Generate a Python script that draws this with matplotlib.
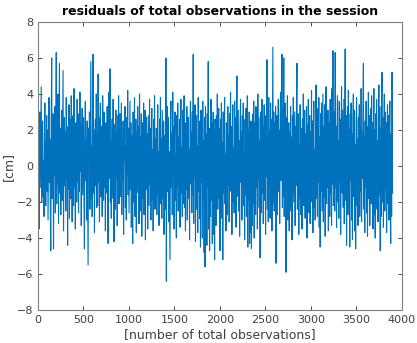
import numpy as np
import matplotlib.pyplot as plt

# residuals in mm, one value every 5th observation, six blocks of 650 observations
seg1 = [-8, 22, -35, 14, 30, -12, 18, 44, -20, 9,
        25, -17, 3, -28, 16, 35, -6, -22, 12, 28,
        -14, 20, -30, 7, 38, -9, 15, -24, -47, 26,
        60, -18, 11, 29, -46, 17, -5, 33, -26, 8,
        63, -21, 24, -10, 40, -32, 13, 57, -15, 21,
        -27, 9, 31, -19, 16, 53, -36, 5, 27, -11,
        19, -25, 38, -7, 14, -44, 22, -13, 34, -29,
        10, 26, -18, 39, -4, -31, 17, 28, -22, 43,
        -12, 15, -35, 24, 6, -20, 37, -9, 29, -26,
        18, -14, 41, -3, 23, -33, 12, 32, -16, 8,
        27, -21, -46, 19, 36, -8, 14, -30, 25, -12,
        -55, 21, 4, 30, -24, 16, 58, -18, 11, -28,
        34, 62, -15, 20, -37, 9, 26, -11, 40, -23]
seg2 = [18, -22, 51, -9, 27, -31, 13, 35, -17, 6,
        22, -28, 39, 2, -19, 30, -12, 17, -36, 24,
        9, -15, 33, -25, -43, 20, 41, -7, 54, -20,
        14, -29, 26, 4, -18, 37, -11, -42, 23, 10,
        -24, 31, -6, 18, -33, 28, -14, 39, -21, 12,
        29, -17, 7, 35, -27, 15, -8, 25, -38, 19,
        3, 33, -23, 11, -30, 27, -5, 42, -16, 21,
        -26, 8, 36, -13, 24, -34, 17, -9, -43, 30,
        -20, 13, 38, -28, 5, 26, -37, 19, -11, 33,
        -15, 22, -32, 40, -4, 16, -25, 29, -39, 10,
        24, -18, 35, -27, 12, 31, -41, 7, 27, -13,
        18, -35, 28, 2, -22, 37, -10, 21, -30, 14,
        32, -19, 9, -36, 26, -7, 39, -24, 15, -12]
seg3 = [21, -27, 12, 34, -16, 8, -33, 26, -9, 38,
        -21, 15, -29, 31, 4, -18, 25, -38, 17, 11,
        -24, 60, -64, 19, 33, -14, 27, -31, 8, -20,
        -52, 24, 36, -12, 18, -27, 41, -6, 22, -35,
        13, 30, -19, 7, -40, 28, -11, 35, -25, 16,
        -8, 26, -34, 20, 37, -15, 10, -28, 31, -21,
        17, 39, -23, 5, -36, 24, -13, 33, -30, 14,
        27, -18, 9, -41, 22, 36, -10, 19, -26, 30,
        -16, 62, -32, 23, -7, 34, -42, 15, 28, -24,
        11, -37, 38, -14, 25, -29, 19, -45, 31, -9,
        22, -40, 36, -18, 14, -48, 27, -56, 33, -22,
        18, -44, 29, -12, 58, -35, 21, -47, 16, -28,
        37, -19, 24, -43, 12, 30, -38, 20, -52, 26]
seg4 = [15, -33, 28, -12, 40, -24, 9, 32, -18, 21,
        -47, 26, -8, 35, -29, 13, -52, 30, -15, 19,
        38, -21, 7, -36, 24, 11, -27, 33, -10, 17,
        -31, 29, -14, 41, -6, 22, -38, 16, 34, -20,
        10, -26, 36, -11, 27, -34, 18, 50, -17, 6,
        31, -25, 14, -39, 23, 37, -9, 19, -30, 28,
        -13, 35, -22, 8, -41, 26, -16, 32, -28, 12,
        39, -45, 20, -19, 30, -43, 15, -37, 25, -46,
        17, -33, 29, -21, 36, -40, 11, 24, -27, 33,
        -12, 21, -35, 40, -8, 27, -23, 14, -51, 30,
        18, -26, 37, -15, 22, -32, 9, 34, -19, 25,
        -38, 28, -6, 59, -24, 16, -31, 38, -11, 20,
        -29, 35, -14, 26, -36, 12, 66, -20, 30, -25]
seg5 = [24, -19, 33, -54, 15, 28, -27, 10, 37, -14,
        20, -32, 26, 41, -8, 18, 62, -23, 31, -17,
        60, -28, 14, 35, -21, -59, 27, -12, 39, -30,
        11, 24, -36, 19, -9, 33, -25, 16, -41, 28,
        -15, 38, -20, 7, 30, -33, 22, -11, 36, 57,
        -24, 17, 29, -38, 12, -18, 34, -27, 21, 8,
        -35, 26, -13, 40, -22, 15, 31, -29, 18, -7,
        33, -40, 23, -16, 37, -26, 10, 28, -32, 19,
        -20, 42, -11, 25, -37, 14, 36, -23, 9, -30,
        27, 45, -18, 32, -28, 21, -9, 38, -34, 16,
        -45, 29, -14, 35, -25, 11, 40, -31, 22, -17,
        34, -39, 18, 44, -21, 26, -12, 31, -36, 13,
        24, -28, 37, -15, 20, -33, 43, -10, 64, -22]
seg6 = [-18, 30, -25, 63, -12, 22, -34, 17, 39, -20,
        14, -29, 36, -9, 26, -38, 19, 44, -15, 31,
        -23, 11, 37, -32, 24, 65, -19, 28, -44, 15,
        33, -27, 42, -13, 20, -45, 29, -8, 35, -30,
        18, -41, 26, 40, -17, 31, -36, 12, -46, 23,
        38, -22, 15, -33, 27, -10, 34, -28, 21, -14,
        43, -31, 19, -7, 30, 57, -24, 16, -37, 25,
        -12, 36, -26, 22, -39, 13, 41, -18, 28, -33,
        9, 32, -21, 39, -15, 24, -35, 17, 43, -27,
        20, -40, 29, -11, 37, -24, 14, -31, 26, 45,
        -16, 33, -47, 21, -28, 38, 52, -20, 27, -34,
        15, 40, -25, 30, -13, 24, -37, 19, 34, -21,
        28, -30, 12, 36, -23, -43, 18, -28, 52, -15]

step = 5
res_mm = np.array(seg1 + seg2 + seg3 + seg4 + seg5 + seg6, dtype=float)
res_cm = res_mm / 10.0
obs = np.arange(len(res_cm)) * step + 1

x_ticks = [0, 500, 1000, 1500, 2000, 2500, 3000, 3500, 4000]
y_ticks = [-8, -6, -4, -2, 0, 2, 4, 6, 8]

axcol = '#262626'
fig = plt.figure(figsize=(4.17, 3.43), dpi=100)
ax = fig.add_axes([0.091, 0.096, 0.873, 0.840])
ax.plot(obs, res_cm, color='#0072BD', linewidth=0.8)

ax.set_xlim(0, 4000)
ax.set_ylim(-8, 8)
ax.set_xticks(x_ticks)
ax.set_yticks(y_ticks)
ax.tick_params(direction='in', top=True, right=True, length=3,
               width=0.6, labelsize=8, colors=axcol, labelcolor='#404040')
for s in ax.spines.values():
    s.set_color('#808080')
    s.set_linewidth(0.8)

ax.set_title('residuals of total observations in the session',
             fontsize=9, fontweight='bold', pad=5)
ax.set_xlabel('[number of total observations]', fontsize=9, color='#404040', labelpad=2)
ax.set_ylabel('[cm]', fontsize=9, color='#404040', labelpad=1)

plt.savefig('out.png', dpi=100)
